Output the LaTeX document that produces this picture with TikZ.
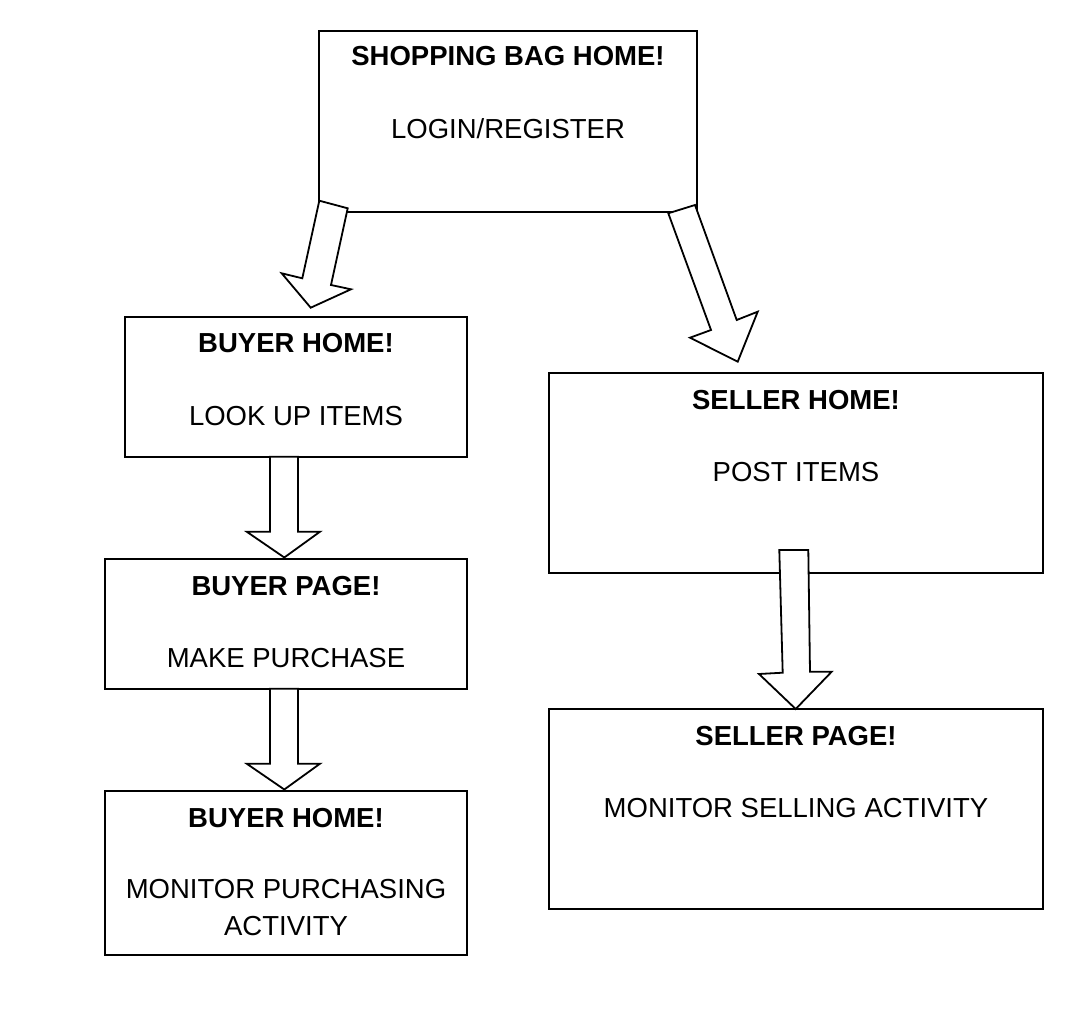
\documentclass[tikz,border=0pt]{standalone}
\usepackage{fontspec}
\setmainfont{Liberation Sans}
\begin{document}
\begin{tikzpicture}[x=1pt,y=-1pt,
  box/.style={draw=black,line width=1.8pt,fill=white,inner sep=0pt,outer sep=0pt},
  ttl/.style={anchor=base,inner sep=0pt,font=\fontsize{27.5}{33}\selectfont\bfseries},
  txt/.style={anchor=base,inner sep=0pt,font=\fontsize{27.5}{33}\selectfont},
  barrow/.style={draw=black,line width=1.8pt,fill=white,line join=miter}]
\useasboundingbox (0,0) rectangle (1074,1032);
\fill[white] (0,0) rectangle (1074,1032);
% boxes
\node[box,minimum width=378pt,minimum height=181pt] (top) at (508,121.5) {};
\node[box,minimum width=342pt,minimum height=140pt] (bh1) at (296,387) {};
\node[box,minimum width=362pt,minimum height=130pt] (bp) at (286,624) {};
\node[box,minimum width=362pt,minimum height=164pt] (bh2) at (286,873) {};
\node[box,minimum width=494pt,minimum height=200pt] (sh) at (796,473) {};
\node[box,minimum width=494pt,minimum height=200pt] (sp) at (796,809) {};
% texts
\node[ttl] (t1) at (508,66) {SHOPPING BAG HOME!};
\node[txt] (t2) at (508,139) {LOGIN/REGISTER};
\node[ttl] (t3) at (296,353) {BUYER HOME!};
\node[txt] (t4) at (296,425) {LOOK UP ITEMS};
\node[ttl] (t5) at (286,595) {BUYER PAGE!};
\node[txt] (t6) at (286,667) {MAKE PURCHASE};
\node[ttl] (t7) at (286,827) {BUYER HOME!};
\node[txt] (t8) at (286,898) {MONITOR PURCHASING};
\node[txt] (t9) at (286,935) {ACTIVITY};
\node[ttl] (t10) at (796,409) {SELLER HOME!};
\node[txt] (t11) at (796,481) {POST ITEMS};
\node[ttl] (t12) at (796,745) {SELLER PAGE!};
\node[txt] (t13) at (796,817) {MONITOR SELLING ACTIVITY};
% block arrows
\draw[barrow] (319.3,200.7) -- (347.7,208.3) -- (331,285) -- (351,289.3) -- (310.7,307.7) -- (281.7,273.3) -- (302.3,278.3) -- cycle;
\draw[barrow] (668.3,213.3) -- (695,205) -- (736.7,320) -- (757.7,311.7) -- (737.7,361.7) -- (690,337.7) -- (711,330) -- cycle;
\draw[barrow] (779.3,550) -- (808.3,550) -- (810,671.7) -- (831.7,671.7) -- (795.7,709) -- (759,674) -- (782.7,672.7) -- cycle;
\draw[barrow] (270,456.7) -- (298,456.7) -- (298,531.7) -- (320,531.7) -- (284.3,557.5) -- (246.7,531.7) -- (270,531.7) -- cycle;
\draw[barrow] (270,688.7) -- (298,688.7) -- (298,763.7) -- (320,763.7) -- (284.3,789.5) -- (246.7,763.7) -- (270,763.7) -- cycle;
\end{tikzpicture}
\end{document}
